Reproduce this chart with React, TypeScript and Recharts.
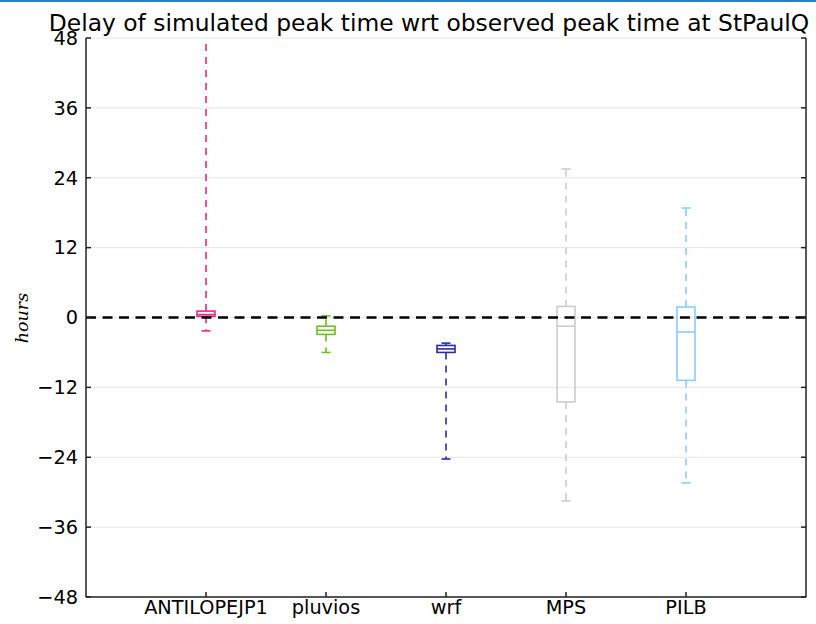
import React from 'react';
import { ComposedChart, Bar, XAxis, YAxis, CartesianGrid, ReferenceLine } from 'recharts';

const categories = ['ANTILOPEJP1', 'pluvios', 'wrf', 'MPS', 'PILB'];
const whiskerLow = [-2.3, -6.0, -24.3, -31.5, -28.4];
const quartile1 = [0.2, -2.9, -6.0, -14.5, -10.8];
const medians = [0.5, -2.2, -5.4, -1.5, -2.5];
const quartile3 = [1.1, -1.5, -4.8, 1.9, 1.8];
const whiskerHigh = [60, 0.3, -4.4, 25.5, 18.8];
const colors = ['#e7298a', '#6cbf24', '#2b2ba6', '#cccccc', '#87cefa'];
const yTicks = [-48, -36, -24, -12, 0, 12, 24, 36, 48];

const data = categories.map((name, i) => ({
  name,
  whislo: whiskerLow[i],
  q1: quartile1[i],
  med: medians[i],
  q3: quartile3[i],
  whishi: whiskerHigh[i],
  color: colors[i],
}));

const FONT = '"DejaVu Sans", sans-serif';
const fmtY = (v: number) => (v < 0 ? '\u2212' + Math.abs(v) : String(v));

const BoxShape = (props: any) => {
  const { x, y, width, height, payload } = props;
  const lo = payload.whislo;
  const hi = payload.whishi;
  const top = Math.min(y, y + height);
  const ppu = Math.abs(height) / (hi - lo);
  const Y = (v: number) => top + (hi - v) * ppu;
  const cx = x + width / 2;
  const bw = 18;
  const cw = 9;
  const c = payload.color;
  const sw = 1.6;
  return (
    <g>
      <line x1={cx} x2={cx} y1={Y(payload.q3)} y2={Y(hi)} stroke={c} strokeWidth={sw} strokeDasharray="7 6" />
      <line x1={cx} x2={cx} y1={Y(payload.q1)} y2={Y(lo)} stroke={c} strokeWidth={sw} strokeDasharray="7 6" />
      <line x1={cx - cw / 2} x2={cx + cw / 2} y1={Y(hi)} y2={Y(hi)} stroke={c} strokeWidth={sw} />
      <line x1={cx - cw / 2} x2={cx + cw / 2} y1={Y(lo)} y2={Y(lo)} stroke={c} strokeWidth={sw} />
      <rect x={cx - bw / 2} y={Y(payload.q3)} width={bw} height={Y(payload.q1) - Y(payload.q3)} fill="none" stroke={c} strokeWidth={sw} />
      <line x1={cx - bw / 2} x2={cx + bw / 2} y1={Y(payload.med)} y2={Y(payload.med)} stroke={c} strokeWidth={sw} />
    </g>
  );
};

const NoTick = () => <g />;

export default function App() {
  return (
    <div style={{ position: 'absolute', left: 0, top: 0, width: 816, height: 624, background: '#fff' }}>
      <div style={{ position: 'absolute', left: 0, top: 0, width: 816, height: 2, background: '#2a7fc0' }} />
      <div
        style={{
          position: 'absolute', left: 0, top: 8, width: 858, textAlign: 'center',
          fontFamily: FONT, fontSize: 23.4, color: '#000', whiteSpace: 'nowrap', lineHeight: '30px',
        }}
      >
        Delay of simulated peak time wrt observed peak time at StPaulQ
      </div>
      <div
        style={{
          position: 'absolute', left: 22, top: 318, width: 0, height: 0,
        }}
      >
        <div
          style={{
            position: 'absolute', left: -40, top: -12, width: 80, height: 24, lineHeight: '24px',
            textAlign: 'center', transform: 'rotate(-90deg)',
            fontFamily: '"DejaVu Serif", serif', fontStyle: 'italic', fontSize: 17.5, color: '#000',
          }}
        >
          hours
        </div>
      </div>
      <ComposedChart
        width={816}
        height={624}
        data={data}
        margin={{ top: 38, right: 0, bottom: 0, left: 0 }}
        style={{ position: 'absolute', left: 0, top: 0 }}
      >
        <CartesianGrid horizontal vertical={false} stroke="#e6e6e6" strokeWidth={1} />
        <XAxis
          dataKey="name"
          xAxisId={0}
          height={27}
          padding={{ left: 60, right: 60 }}
          stroke="#222"
          strokeWidth={1.5}
          tickSize={-5}
          tickMargin={8}
          tick={{ fontFamily: FONT, fontSize: 19.3, fill: '#000' }}
          interval={0}
        />
        <XAxis
          dataKey="name"
          xAxisId="top"
          orientation="top"
          height={0}
          padding={{ left: 60, right: 60 }}
          stroke="#222"
          strokeWidth={1.5}
          tickSize={-5}
          tick={NoTick}
          interval={0}
        />
        <YAxis
          yAxisId={0}
          width={86}
          domain={[-48, 48]}
          ticks={yTicks}
          tickFormatter={fmtY}
          allowDataOverflow
          stroke="#222"
          strokeWidth={1.5}
          tickSize={-5}
          tickMargin={13}
          tick={{ fontFamily: FONT, fontSize: 19.3, fill: '#000' }}
          interval={0}
        />
        <YAxis
          yAxisId="right"
          orientation="right"
          width={10}
          domain={[-48, 48]}
          ticks={yTicks}
          allowDataOverflow
          stroke="#222"
          strokeWidth={1.5}
          tickSize={-5}
          tick={NoTick}
          interval={0}
        />
        <ReferenceLine y={0} stroke="#000" strokeWidth={2.5} strokeDasharray="10 6.5" />
        <Bar
          dataKey={(d: any) => [d.whislo, d.whishi]}
          shape={BoxShape}
          isAnimationActive={false}
          barSize={18}
        />
      </ComposedChart>
    </div>
  );
}
